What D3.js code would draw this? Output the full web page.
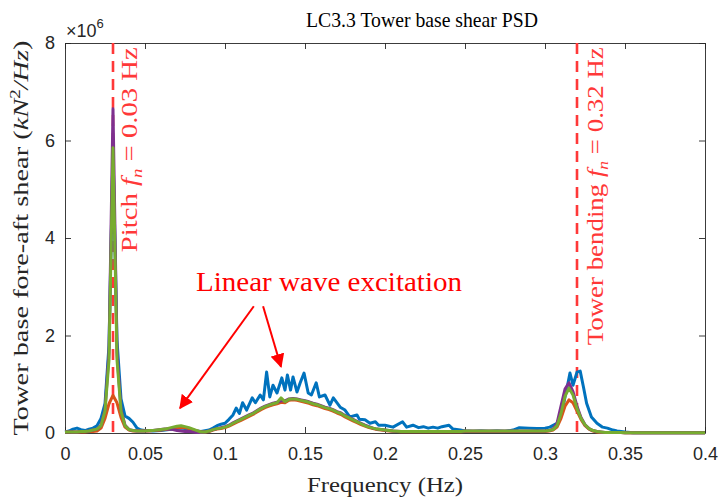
<!DOCTYPE html>
<html>
  <head>
    <style>
      body { margin: 0; background: #fff; }
      .tick text { font-family: 'Liberation Sans', Arial, sans-serif; font-size: 18px; fill: #262626; }
      .domain, .tick line { stroke: #262626; stroke-width: 0.9px; }
      .serif { font-family: 'Liberation Serif', 'Times New Roman', serif; }
    </style>
  </head>
  <body>
    <script src="https://d3js.org/d3.v7.min.js"></script>
    <script>
      var width = 720;
      var height = 501;
      var margin = {top: 43, right: 15, bottom: 68, left: 65};

      // frequency grid (Hz) for the smooth series, 0.0025 Hz steps from 0 to 0.4
      var freq = d3.range(161).map(function(i) { return +(i * 0.0025).toFixed(4); });

      // PSD values, units of 1e6 kN^2/Hz
      var green = [
        0.02,0.02,0.02,0.02,0.03,0.03,0.04,0.06,0.08,0.15,
        0.45,1.5,5.85,1.5,0.45,0.15,0.07,0.05,0.04,0.04,
        0.04,0.05,0.05,0.06,0.07,0.08,0.1,0.12,0.14,0.15,
        0.13,0.11,0.08,0.05,0.02,0.02,0.04,0.07,0.09,0.1,
        0.12,0.15,0.2,0.24,0.28,0.32,0.36,0.4,0.45,0.5,
        0.54,0.57,0.6,0.62,0.72,0.64,0.69,0.7,0.69,0.67,
        0.65,0.63,0.6,0.58,0.55,0.52,0.5,0.47,0.43,0.4,
        0.35,0.31,0.27,0.23,0.19,0.15,0.12,0.1,0.08,0.07,
        0.06,0.05,0.04,0.035,0.03,0.03,0.03,0.03,0.03,0.03,
        0.03,0.03,0.03,0.03,0.03,0.03,0.03,0.03,0.03,0.03,
        0.04,0.04,0.04,0.04,0.04,0.04,0.04,0.04,0.04,0.04,
        0.04,0.04,0.04,0.04,0.04,0.04,0.04,0.04,0.04,0.04,
        0.04,0.05,0.07,0.15,0.4,0.75,0.92,0.78,0.5,0.3,
        0.17,0.09,0.05,0.03,0.02,0.01,0.01,0.01,0.01,0.01,
        0.005,0.005,0.005,0.005,0.005,0.005,0.005,0.005,0.005,0.005,
        0.005,0.005,0.005,0.005,0.005,0.005,0.005,0.005,0.005,0.005,
        0.005
      ];

      var purple = [
        0.02,0.02,0.02,0.02,0.03,0.03,0.04,0.06,0.08,0.16,
        0.48,1.65,6.65,1.65,0.48,0.16,0.07,0.05,0.04,0.04,
        0.04,0.05,0.05,0.06,0.07,0.08,0.08,0.07,0.05,0.04,
        0.03,0.03,0.02,0.01,0.01,0.02,0.04,0.07,0.09,0.11,
        0.13,0.16,0.21,0.25,0.29,0.33,0.37,0.41,0.46,0.51,
        0.55,0.58,0.61,0.63,0.66,0.66,0.7,0.71,0.7,0.68,
        0.66,0.64,0.61,0.59,0.56,0.53,0.51,0.48,0.44,0.41,
        0.36,0.32,0.28,0.24,0.2,0.16,0.13,0.1,0.08,0.07,
        0.06,0.05,0.04,0.035,0.03,0.03,0.03,0.03,0.03,0.03,
        0.03,0.03,0.03,0.03,0.03,0.03,0.03,0.03,0.03,0.03,
        0.04,0.04,0.04,0.04,0.04,0.04,0.04,0.04,0.04,0.04,
        0.04,0.04,0.04,0.04,0.04,0.04,0.04,0.04,0.04,0.04,
        0.04,0.05,0.08,0.2,0.55,0.9,1.03,0.85,0.55,0.32,
        0.17,0.09,0.05,0.03,0.02,0.01,0.01,0.01,0.01,0.01,
        0.005,0.005,0.005,0.005,0.005,0.005,0.005,0.005,0.005,0.005,
        0.005,0.005,0.005,0.005,0.005,0.005,0.005,0.005,0.005,0.005,
        0.005
      ];

      var orange = [
        0.02,0.02,0.02,0.02,0.02,0.02,0.03,0.03,0.04,0.1,
        0.3,0.6,0.77,0.62,0.32,0.12,0.06,0.04,0.04,0.04,
        0.04,0.04,0.05,0.05,0.06,0.07,0.08,0.1,0.11,0.12,
        0.11,0.09,0.07,0.04,0.02,0.02,0.03,0.06,0.08,0.09,
        0.11,0.14,0.18,0.22,0.26,0.3,0.34,0.38,0.43,0.48,
        0.52,0.55,0.58,0.6,0.63,0.62,0.67,0.68,0.67,0.65,
        0.63,0.61,0.58,0.56,0.53,0.5,0.48,0.45,0.41,0.38,
        0.33,0.29,0.25,0.21,0.17,0.14,0.11,0.09,0.07,0.06,
        0.05,0.04,0.035,0.03,0.025,0.025,0.025,0.025,0.025,0.025,
        0.025,0.025,0.025,0.025,0.025,0.025,0.025,0.025,0.025,0.025,
        0.03,0.03,0.03,0.03,0.03,0.03,0.03,0.03,0.03,0.03,
        0.03,0.03,0.03,0.03,0.03,0.03,0.03,0.03,0.03,0.03,
        0.03,0.04,0.06,0.12,0.3,0.55,0.68,0.62,0.45,0.28,
        0.15,0.08,0.04,0.02,0.01,0.01,0.01,0.01,0.01,0.01,
        0.005,0.005,0.005,0.005,0.005,0.005,0.005,0.005,0.005,0.005,
        0.005,0.005,0.005,0.005,0.005,0.005,0.005,0.005,0.005,0.005,
        0.005
      ];

      // the blue series is noisier, so it has its own (irregular) frequency list
      var blueFreq = [
        0,0.0025,0.005,0.0075,0.01,0.0125,0.015,0.0175,0.02,0.0225,
        0.025,0.0275,0.03,0.0325,0.035,0.0375,0.04,0.0425,0.045,0.0475,
        0.05,0.055,0.06,0.065,0.07,0.0725,0.075,0.08,0.085,0.09,
        0.0925,0.095,0.0975,0.1,0.1025,0.105,0.107,0.109,0.111,0.1135,
        0.117,0.119,0.122,0.124,0.126,0.128,0.13,0.1325,0.1355,0.1375,
        0.139,0.141,0.1425,0.145,0.147,0.1494,0.152,0.154,0.157,0.159,
        0.1625,0.1656,0.1677,0.172,0.175,0.178,0.1825,0.184,0.1875,0.1906,
        0.194,0.196,0.2,0.205,0.211,0.2135,0.2175,0.221,0.224,0.227,
        0.23,0.233,0.2356,0.24,0.2425,0.247,0.25,0.255,0.26,0.265,
        0.27,0.275,0.28,0.284,0.29,0.295,0.3,0.303,0.3075,0.3106,
        0.3125,0.3144,0.3156,0.3175,0.32,0.322,0.324,0.326,0.329,0.3325,
        0.336,0.339,0.3425,0.345,0.35,0.355,0.4
      ];
      var blue = [
        0.02,0.04,0.08,0.1,0.07,0.05,0.08,0.1,0.15,0.3,
        0.6,1.8,5.8,1.9,0.7,0.35,0.3,0.22,0.1,0.06,
        0.05,0.04,0.05,0.07,0.09,0.1,0.09,0.05,0.03,0.06,
        0.1,0.15,0.18,0.2,0.28,0.37,0.51,0.4,0.62,0.47,
        0.72,0.62,0.78,0.68,1.25,0.74,0.98,0.82,1.13,0.88,
        1.19,0.88,1.15,0.84,1.03,1.23,0.82,0.78,1.03,0.74,
        0.78,0.57,0.72,0.53,0.47,0.33,0.37,0.28,0.27,0.2,
        0.23,0.16,0.16,0.12,0.23,0.12,0.16,0.11,0.13,0.1,
        0.12,0.1,0.13,0.16,0.08,0.06,0.04,0.03,0.04,0.03,
        0.04,0.03,0.06,0.11,0.1,0.09,0.1,0.12,0.2,0.41,
        0.74,1.03,1.23,0.98,1.25,1.27,0.95,0.61,0.33,0.2,
        0.12,0.1,0.06,0.04,0.02,0.005,0.005
      ];

      var xTicks = [0, 0.05, 0.1, 0.15, 0.2, 0.25, 0.3, 0.35, 0.4];
      var yTicks = [0, 2, 4, 6, 8];
      var naturalFreqs = [0.03, 0.32];

      var svg = d3.select("body")
        .append("svg")
        .attr("width", width)
        .attr("height", height);

      var x = d3.scaleLinear().domain([0, 0.4]).range([margin.left, width - margin.right]);
      var y = d3.scaleLinear().domain([0, 8]).range([height - margin.bottom, margin.top]);

      var fmt = function(d) { return d === 0 ? "0" : String(d); };

      // axes, ticks pointing inward like matlab
      svg.append("g")
        .attr("transform", "translate(0," + y(0) + ")")
        .call(d3.axisBottom(x).tickValues(xTicks).tickFormat(fmt).tickSizeInner(-6).tickSizeOuter(0).tickPadding(14));
      svg.append("g")
        .attr("transform", "translate(0," + y(8) + ")")
        .call(d3.axisTop(x).tickValues(xTicks).tickFormat("").tickSizeInner(-6).tickSizeOuter(0));
      svg.append("g")
        .attr("transform", "translate(" + x(0) + ",0)")
        .call(d3.axisLeft(y).tickValues(yTicks).tickSizeInner(-6).tickSizeOuter(0).tickPadding(10));
      svg.append("g")
        .attr("transform", "translate(" + x(0.4) + ",0)")
        .call(d3.axisRight(y).tickValues(yTicks).tickFormat("").tickSizeInner(-6).tickSizeOuter(0));

      // exponent label
      var expo = svg.append("text")
        .attr("x", x(0) + 1)
        .attr("y", y(8) - 6)
        .style("font-family", "'Liberation Sans', Arial, sans-serif")
        .style("font-size", "18px")
        .style("fill", "#262626");
      expo.append("tspan").text("\u00d710");
      expo.append("tspan").attr("dy", -9).style("font-size", "13px").text("6");

      // natural frequency lines
      svg.selectAll(".fn")
        .data(naturalFreqs)
        .enter().append("line")
        .attr("x1", function(d) { return x(d); })
        .attr("x2", function(d) { return x(d); })
        .attr("y1", y(8))
        .attr("y2", y(0))
        .attr("stroke", "#ff3838")
        .attr("stroke-width", 2.6)
        .attr("stroke-dasharray", "11,7");

      var line = d3.line()
        .x(function(d) { return x(d[0]); })
        .y(function(d) { return y(d[1]); });

      function pairs(fs, vs) {
        return fs.map(function(f, i) { return [f, vs[i]]; });
      }

      var series = [
        {values: pairs(blueFreq, blue), color: "#0072BD"},
        {values: pairs(freq, orange), color: "#D95319"},
        {values: pairs(freq, purple), color: "#7E2F8E"},
        {values: pairs(freq, green), color: "#77AC30"}
      ];

      svg.append("g")
        .selectAll("path")
        .data(series)
        .enter().append("path")
        .attr("d", function(d) { return line(d.values); })
        .attr("fill", "none")
        .attr("stroke", function(d) { return d.color; })
        .attr("stroke-width", 3)
        .attr("stroke-linejoin", "round");

      // vertical labels next to the dashed lines
      function vlabel(fx, yStart, len, name, value) {
        var t = svg.append("text")
          .attr("class", "serif")
          .attr("transform", "translate(" + x(fx) + "," + y(yStart) + ") rotate(-90)")
          .attr("textLength", len)
          .attr("lengthAdjust", "spacingAndGlyphs")
          .style("font-size", "23px")
          .style("fill", "#ff3838");
        t.append("tspan").text(name + " ");
        t.append("tspan").style("font-style", "italic").text("f");
        t.append("tspan").attr("dy", 5).style("font-size", "15px").style("font-style", "italic").text("n");
        t.append("tspan").attr("dy", -5).text(" = " + value + " Hz");
      }
      vlabel(0.045, 3.71, 205, "Pitch", "0.03");
      vlabel(0.336, 1.8, 298, "Tower bending", "0.32");

      // annotation
      svg.append("text")
        .attr("class", "serif")
        .attr("x", x(0.0819))
        .attr("y", y(2.91))
        .attr("textLength", 266)
        .attr("lengthAdjust", "spacingAndGlyphs")
        .style("font-size", "27px")
        .style("fill", "#ff0000")
        .text("Linear wave excitation");

      svg.append("defs").append("marker")
        .attr("id", "head")
        .attr("viewBox", "0 0 10 10")
        .attr("refX", 9)
        .attr("refY", 5)
        .attr("markerWidth", 7)
        .attr("markerHeight", 7)
        .attr("markerUnits", "strokeWidth")
        .attr("orient", "auto")
        .append("path")
        .attr("d", "M0,0L10,5L0,10z")
        .attr("fill", "#ff0000");

      var arrows = [
        {from: [0.118, 2.6], to: [0.0719, 0.51]},
        {from: [0.1238, 2.6], to: [0.135, 1.36]}
      ];
      svg.selectAll(".arrow")
        .data(arrows)
        .enter().append("line")
        .attr("x1", function(d) { return x(d.from[0]); })
        .attr("y1", function(d) { return y(d.from[1]); })
        .attr("x2", function(d) { return x(d.to[0]); })
        .attr("y2", function(d) { return y(d.to[1]); })
        .attr("stroke", "#ff0000")
        .attr("stroke-width", 2)
        .attr("marker-end", "url(#head)");

      // titles
      svg.append("text")
        .attr("class", "serif")
        .attr("x", 306)
        .attr("y", 27)
        .attr("textLength", 232)
        .attr("lengthAdjust", "spacingAndGlyphs")
        .style("font-size", "21px")
        .style("fill", "#000")
        .text("LC3.3 Tower base shear PSD");

      svg.append("text")
        .attr("class", "serif")
        .attr("x", 307)
        .attr("y", 492)
        .attr("textLength", 156)
        .attr("lengthAdjust", "spacingAndGlyphs")
        .style("font-size", "21px")
        .style("fill", "#262626")
        .text("Frequency (Hz)");

      var yl = svg.append("text")
        .attr("class", "serif")
        .attr("transform", "translate(28," + ((y(0) + y(8)) / 2) + ") rotate(-90)")
        .attr("text-anchor", "middle")
        .attr("textLength", 395)
        .attr("lengthAdjust", "spacingAndGlyphs")
        .style("font-size", "21px")
        .style("fill", "#262626");
      yl.append("tspan").text("Tower base fore-aft shear (");
      yl.append("tspan").style("font-style", "italic").text("kN");
      yl.append("tspan").attr("dy", -8).style("font-size", "14px").text("2");
      yl.append("tspan").attr("dy", 8).style("font-style", "italic").text("/Hz");
      yl.append("tspan").text(")");
    </script>
  </body>
</html>
